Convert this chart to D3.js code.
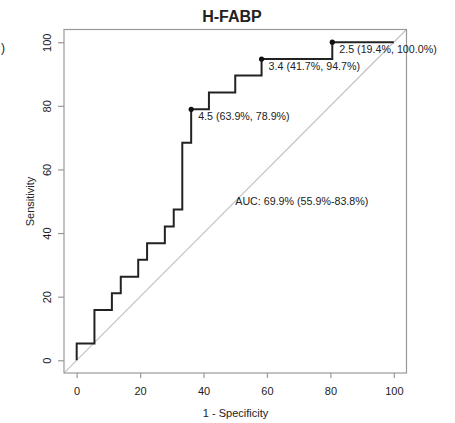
<!DOCTYPE html>
<html>
<head>
<meta charset="utf-8">
<script src="https://cdn.jsdelivr.net/npm/d3@7"></script>
<style>
  body { margin: 0; background: #fff; }
  text { font-family: "Liberation Sans", Arial, sans-serif; fill: #222; }
</style>
</head>
<body>
<div id="chart"></div>
<script>
// ROC curve for H-FABP (x = 1 - specificity, y = sensitivity, in %)
const fpr = [0, 0, 5.6, 11.1, 13.9, 19.4, 22.2, 27.8, 30.6, 33.3, 36.1, 41.7, 50.0, 58.3, 80.6, 100];
const tpr = [0, 5.3, 15.8, 21.1, 26.3, 31.6, 36.8, 42.1, 47.4, 68.4, 78.9, 84.2, 89.5, 94.7, 100, 100];

// best thresholds printed on the curve
const cutX = [36.1, 58.3, 80.6];
const cutY = [78.9, 94.7, 100];
const cutLabels = ["4.5 (63.9%, 78.9%)", "3.4 (41.7%, 94.7%)", "2.5 (19.4%, 100.0%)"];

const ticks = [0, 20, 40, 60, 80, 100];
const aucText = "AUC: 69.9% (55.9%-83.8%)";
const aucPos = [50, 50];

const width = 455, height = 423;
const svg = d3.select("#chart").append("svg")
    .attr("width", width)
    .attr("height", height);

const x = d3.scaleLinear().domain([-4, 104]).range([64, 406.5]);
const y = d3.scaleLinear().domain([-4, 104]).range([373, 29.5]);

// stray bracket from the neighbouring panel
svg.append("text").attr("x", 1).attr("y", 52).style("font-size", "12px").text(")");

// title
svg.append("text")
    .attr("x", 232).attr("y", 21.5)
    .attr("text-anchor", "middle")
    .style("font-size", "16px").style("font-weight", "bold")
    .text("H-FABP");

svg.append("clipPath").attr("id", "plotClip")
    .append("rect")
    .attr("x", x(-4)).attr("y", y(104))
    .attr("width", x(104) - x(-4)).attr("height", y(-4) - y(104));

// chance diagonal
svg.append("line")
    .attr("clip-path", "url(#plotClip)")
    .attr("x1", x(-4)).attr("y1", y(-4))
    .attr("x2", x(104)).attr("y2", y(104))
    .attr("stroke", "#c4c4c4").attr("stroke-width", 1.2);

// frame
svg.append("rect")
    .attr("x", x(-4)).attr("y", y(104))
    .attr("width", x(104) - x(-4)).attr("height", y(-4) - y(104))
    .attr("fill", "none").attr("stroke", "#999").attr("stroke-width", 1.2);

// axes
const xAxis = svg.append("g")
    .attr("transform", `translate(0,${y(-4)})`)
    .call(d3.axisBottom(x).tickValues(ticks).tickSize(5).tickPadding(9).tickSizeOuter(0));
const yAxis = svg.append("g")
    .attr("transform", `translate(${x(-4)},0)`)
    .call(d3.axisLeft(y).tickValues(ticks).tickSize(6).tickSizeOuter(0));

[xAxis, yAxis].forEach(g => {
    g.select(".domain").remove();
    g.selectAll("line").attr("stroke", "#999").attr("stroke-width", 1.2);
    g.selectAll("text").style("font-size", "11px").style("font-family", "Liberation Sans, Arial, sans-serif").attr("fill", "#222");
});
yAxis.selectAll("text")
    .attr("x", 0).attr("dy", 0)
    .attr("text-anchor", "middle")
    .attr("transform", "translate(-13,0) rotate(-90)");

// axis titles
svg.append("text")
    .attr("x", 235.5).attr("y", 416.5)
    .attr("text-anchor", "middle")
    .style("font-size", "11px")
    .text("1 - Specificity");
svg.append("text")
    .attr("transform", "translate(34,201.5) rotate(-90)")
    .attr("text-anchor", "middle")
    .style("font-size", "11px")
    .text("Sensitivity");

// ROC curve
const line = d3.line()
    .x((d, i) => x(fpr[i]))
    .y((d, i) => y(tpr[i]))
    .curve(d3.curveStepAfter);
svg.append("path")
    .datum(fpr)
    .attr("d", line)
    .attr("fill", "none")
    .attr("stroke", "#222")
    .attr("stroke-width", 2);

// thresholds
svg.selectAll(".cut")
    .data(cutX)
    .enter()
    .append("circle")
    .attr("class", "cut")
    .attr("cx", d => x(d))
    .attr("cy", (d, i) => y(cutY[i]))
    .attr("r", 2.6)
    .attr("fill", "#111");

svg.selectAll(".cutLabel")
    .data(cutLabels)
    .enter()
    .append("text")
    .attr("class", "cutLabel")
    .attr("x", (d, i) => x(cutX[i]) + 7)
    .attr("y", (d, i) => y(cutY[i]) + 11)
    .style("font-size", "10.7px")
    .text(d => d);

svg.append("text")
    .attr("x", x(aucPos[0])).attr("y", y(aucPos[1]))
    .attr("dy", "0.35em")
    .style("font-size", "10.7px")
    .text(aucText);
</script>
</body>
</html>
